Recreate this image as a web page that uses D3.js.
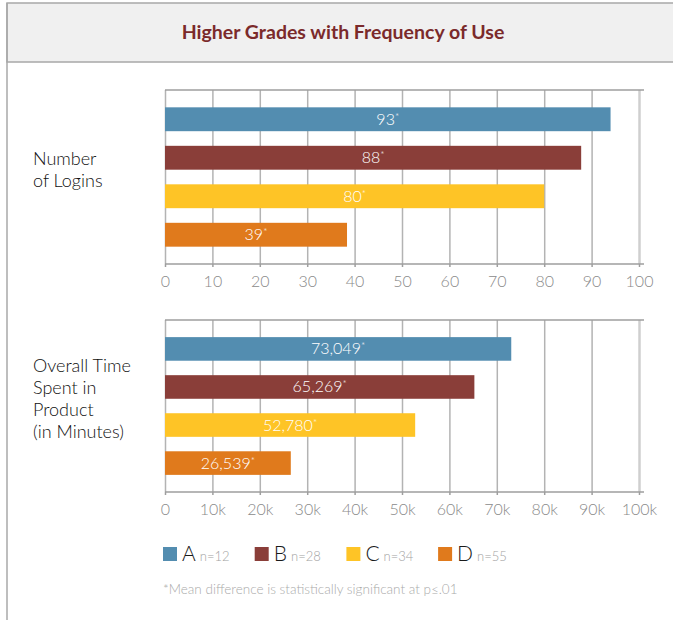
<!DOCTYPE html>
<html>
<head>
<meta charset="utf-8">
<script src="https://cdn.jsdelivr.net/npm/d3@7"></script>
<style>
  body { margin: 0; background: #fff; }
  svg { display: block; font-family: Lato, "Noto Sans", sans-serif; }
</style>
</head>
<body>
<div id="chart"></div>
<script>
/* CONSTANTS AND GLOBALS */
const width = 673,
  height = 620;

// data
const grades = ["A", "B", "C", "D"];
const gradeN = ["n=12", "n=28", "n=34", "n=55"];
const colors = ["#538db0", "#8a3e39", "#fec426", "#e07a1c"];

const loginValues = [94, 87.8, 80, 38.4];
const loginLabels = ["93", "88", "80", "39"];
const loginTicks = [0, 10, 20, 30, 40, 50, 60, 70, 80, 90, 100];

const timeValues = [73049, 65269, 52780, 26539];
const timeLabels = ["73,049", "65,269", "52,780", "26,539"];
const timeTicks = [0, 10000, 20000, 30000, 40000, 50000, 60000, 70000, 80000, 90000, 100000];

const panels = [
  { name: ["Number", "of Logins"], values: loginValues, labels: loginLabels,
    ticks: loginTicks, max: 100, fmt: d => d, top: 90, bottom: 264 },
  { name: ["Overall Time", "Spent in", "Product", "(in Minutes)"], values: timeValues, labels: timeLabels,
    ticks: timeTicks, max: 100000, fmt: d => d === 0 ? "0" : (d / 1000) + "k", top: 320, bottom: 492 }
];

const svg = d3.select("#chart")
  .append("svg")
  .attr("width", width)
  .attr("height", height);

// frame + header
svg.append("rect")
  .attr("x", 7).attr("y", 3)
  .attr("width", width).attr("height", 59)
  .attr("fill", "#f0f0f0")
  .attr("stroke", "#a8a8a8")
  .attr("stroke-width", 1.5);

svg.append("line")
  .attr("x1", 7).attr("x2", 7)
  .attr("y1", 3).attr("y2", height)
  .attr("stroke", "#a8a8a8")
  .attr("stroke-width", 1.5);

svg.append("text")
  .attr("x", 343).attr("y", 39)
  .attr("text-anchor", "middle")
  .attr("font-size", 19.5)
  .attr("font-weight", "bold")
  .attr("fill", "#7b2a2b")
  .text("Higher Grades with Frequency of Use");

const xLeft = 165, xRight = 639;

panels.forEach(p => {
  const xScale = d3.scaleLinear()
    .domain([0, p.max])
    .range([xLeft, xRight]);

  const yScale = d3.scaleBand()
    .domain(grades)
    .range([p.top, p.bottom])
    .paddingInner(0.38)
    .paddingOuter(0.45);

  const g = svg.append("g");

  // gridlines
  g.append("g")
    .attr("transform", `translate(0, ${p.bottom})`)
    .call(d3.axisBottom(xScale).tickValues(p.ticks).tickSize(-(p.bottom - p.top)).tickFormat(""))
    .call(a => a.select(".domain").remove())
    .call(a => a.selectAll(".tick line")
      .attr("stroke", (d, i) => i === p.ticks.length - 1 ? "#cfcfcf" : "#b3b3b3")
      .attr("stroke-width", (d, i) => i === p.ticks.length - 1 ? 2.5 : 1.5));

  // top line
  g.append("line")
    .attr("x1", xLeft).attr("x2", xRight + 5)
    .attr("y1", p.top).attr("y2", p.top)
    .attr("stroke", "#9e9e9e")
    .attr("stroke-width", 1.5);

  // bars
  g.selectAll("rect.bar")
    .data(p.values)
    .join("rect")
    .attr("class", "bar")
    .attr("x", xScale(0))
    .attr("y", (d, i) => yScale(grades[i]))
    .attr("width", d => xScale(d) - xScale(0))
    .attr("height", yScale.bandwidth())
    .attr("fill", (d, i) => colors[i]);

  // bar labels
  const lbl = g.selectAll("text.val")
    .data(p.values)
    .join("text")
    .attr("class", "val")
    .attr("x", d => (xScale(0) + xScale(d)) / 2)
    .attr("y", (d, i) => yScale(grades[i]) + yScale.bandwidth() / 2 + 5.5)
    .attr("text-anchor", "middle")
    .attr("font-size", 16)
    .attr("font-weight", 300)
    .attr("fill", "#fff");
  lbl.append("tspan").text((d, i) => p.labels[i]);
  lbl.append("tspan").attr("font-size", 10).attr("dy", -5).text("*");

  // x axis
  g.append("g")
    .attr("transform", `translate(0, ${p.bottom})`)
    .call(d3.axisBottom(xScale).tickValues(p.ticks).tickSizeInner(3).tickSizeOuter(0).tickPadding(9).tickFormat(p.fmt))
    .call(a => a.select(".domain")
      .attr("d", `M${xLeft},0H${xRight + 5}`)
      .attr("stroke", "#9e9e9e")
      .attr("stroke-width", 1.5))
    .call(a => a.selectAll(".tick line").attr("stroke", "#9e9e9e").attr("stroke-width", 1.5))
    .call(a => a.selectAll(".tick text")
      .attr("fill", "#8a8a8a")
      .attr("font-size", 16)
      .attr("font-weight", 300)
      .attr("font-family", "Lato, sans-serif"));

  // category label
  const mid = (p.top + p.bottom) / 2;
  const lh = 22;
  g.append("text")
    .attr("font-size", 18)
    .attr("font-weight", 300)
    .attr("fill", "#111")
    .selectAll("tspan")
    .data(p.name)
    .join("tspan")
    .attr("x", 33)
    .attr("y", (d, i) => mid - (p.name.length - 1) * lh / 2 - 1 + i * lh)
    .text(d => d);
});

// legend
const legend = svg.append("g")
  .selectAll("g")
  .data(grades)
  .join("g")
  .attr("transform", (d, i) => `translate(${163 + i * 91.7}, 547)`);

legend.append("rect")
  .attr("width", 14).attr("height", 14)
  .attr("fill", (d, i) => colors[i]);

const lt = legend.append("text")
  .attr("x", 19).attr("y", 14);
lt.append("tspan")
  .attr("font-size", 21)
  .attr("font-weight", 300)
  .attr("fill", "#1a1a1a")
  .text(d => d);
lt.append("tspan")
  .attr("dx", 4)
  .attr("font-size", 13)
  .attr("font-weight", 300)
  .attr("fill", "#a3a3a3")
  .text((d, i) => gradeN[i]);

svg.append("text")
  .attr("x", 163).attr("y", 594)
  .attr("font-size", 13.5)
  .attr("font-weight", 300)
  .attr("fill", "#aaa")
  .text("*Mean difference is statistically significant at p≤.01");
</script>
</body>
</html>
